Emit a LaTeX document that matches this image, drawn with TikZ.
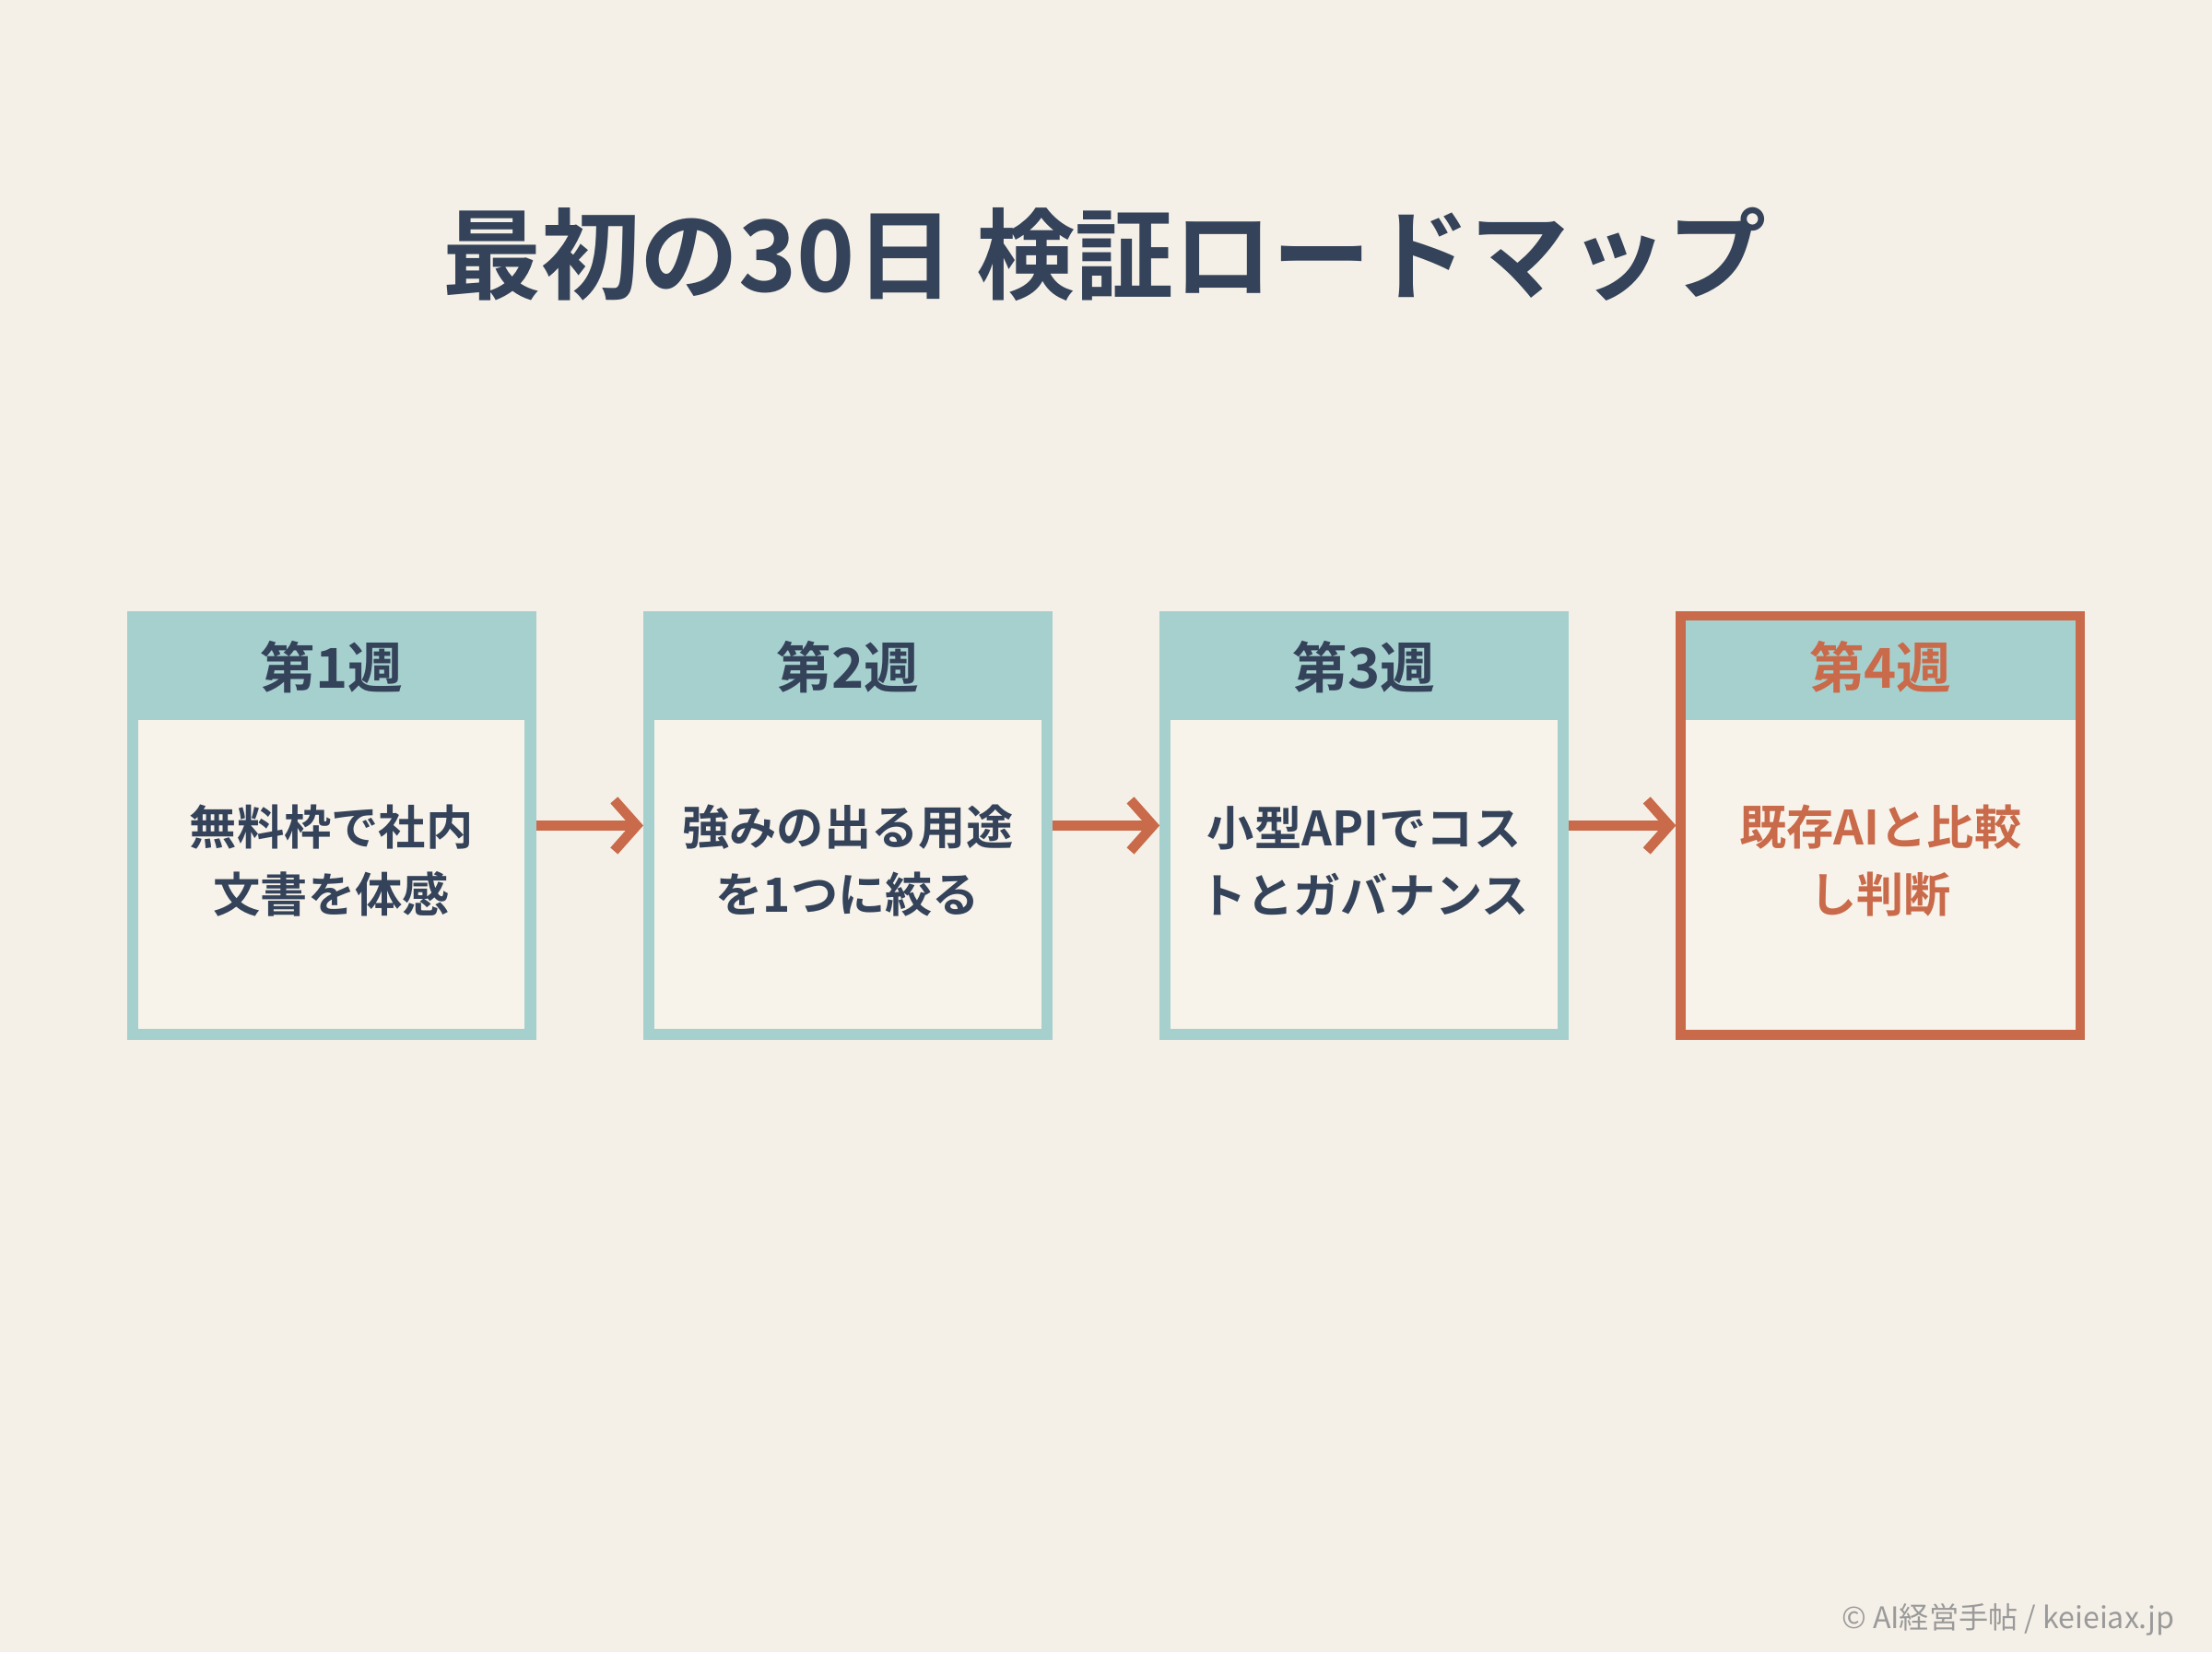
\documentclass[tikz,border=0pt]{standalone}
\usepackage{fontspec}
\setmainfont{Noto Sans CJK JP}
\newfontfamily\jpb{Noto Sans CJK JP Bold}
\usetikzlibrary{arrows.meta}
\definecolor{bg}{HTML}{F5F0E7}
\definecolor{navy}{HTML}{34435A}
\definecolor{teal}{HTML}{A6D0CE}
\definecolor{inner}{HTML}{F8F3EA}
\definecolor{org}{HTML}{C96A4A}
\definecolor{gr}{HTML}{9A9A9A}
\tikzset{
  band/.style={fill=teal,draw=none},
  hdr/.style={font=\jpb\fontsize{39}{44}\selectfont,text=navy},
  body/.style={font=\jpb\fontsize{33.5}{48}\selectfont,text=navy,align=center},
  arr/.style={draw=org,line width=7pt,-{Straight Barb[length=16pt,width=36pt,line width=7pt]}}
}
\begin{document}
\begin{tikzpicture}[x=1pt,y=-1pt]
\fill[bg] (0,0) rectangle (1568,1171);
\useasboundingbox (0,0) rectangle (1568,1171);
\node[font=\jpb\fontsize{70}{80}\selectfont,text=navy] (title) at (783,180) {最初の30日 検証ロードマップ};
\foreach \i/\x/\h/\ta/\tb in {1/90/第1週/無料枠で社内/文書を体感,2/456/第2週/強みの出る用途/を1つに絞る,3/822/第3週/小型APIでコス/トとガバナンス}{
  \fill[teal] (\x,433) rectangle ++(290,304);
  \fill[inner] (\x+8,510) rectangle ++(274,219);
  \node[hdr] (h\i) at (\x+145,473) {\h};
  \node[body] (b\i) at (\x+145,610) {\ta\\\tb};
  \coordinate (L\i) at (\x,585);
  \coordinate (R\i) at (\x+290,585);
}
\fill[teal] (1188,433) rectangle ++(290,77);
\fill[inner] (1188,510) rectangle ++(290,227);
\draw[org,line width=7pt] (1191.5,436.5) rectangle (1474.5,733.5);
\node[hdr,text=org] (h4) at (1333,473) {第4週};
\node[body,text=org] (b4) at (1333,610) {既存AIと比較\\し判断};
\coordinate (L4) at (1188,585);
\draw[arr] (R1) -- (L2);
\draw[arr] (R2) -- (L3);
\draw[arr] (R3) -- (L4);
\node[anchor=east,font=\fontsize{21}{24}\selectfont,text=gr] (foot) at (1545,1148) {© AI経営手帖 / keieiax.jp};
\end{tikzpicture}
\end{document}
